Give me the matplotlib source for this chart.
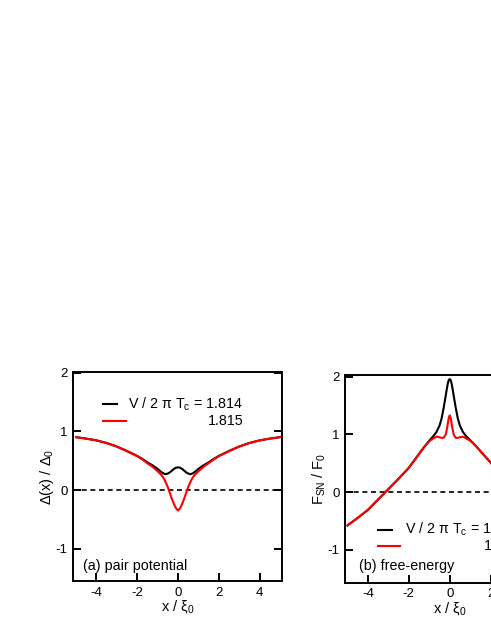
import numpy as np
import matplotlib
matplotlib.use("Agg")
import matplotlib.pyplot as plt

plt.rcParams['font.family'] = ['Liberation Sans', 'DejaVu Sans']
plt.rcParams['mathtext.fontset'] = 'custom'
plt.rcParams['mathtext.rm'] = 'Liberation Sans'
plt.rcParams['mathtext.default'] = 'regular'
plt.rcParams['axes.unicode_minus'] = False

# (a) pair potential
x_delta = [-5.0, -4.5, -4.0, -3.5, -3.0, -2.5, -2.0, -1.75, -1.5, -1.25, -1.0, -0.9, -0.8,
           -0.7, -0.6, -0.5, -0.4, -0.3, -0.2, -0.1, 0.0, 0.1, 0.2, 0.3, 0.4, 0.5, 0.6,
           0.7, 0.8, 0.9, 1.0, 1.25, 1.5, 1.75, 2.0, 2.5, 3.0, 3.5, 4.0, 4.5, 5.0]
delta_1814 = [0.90, 0.875, 0.845, 0.80, 0.74, 0.665, 0.58, 0.53, 0.47, 0.42, 0.36, 0.33, 0.30,
              0.28, 0.27, 0.28, 0.30, 0.33, 0.36, 0.38, 0.385, 0.38, 0.36, 0.33, 0.30, 0.28, 0.27,
              0.28, 0.30, 0.33, 0.36, 0.42, 0.47, 0.53, 0.58, 0.665, 0.74, 0.80, 0.845, 0.875, 0.90]
delta_1815 = [0.90, 0.875, 0.845, 0.80, 0.74, 0.66, 0.575, 0.52, 0.455, 0.395, 0.32, 0.285, 0.25,
              0.20, 0.13, 0.05, -0.05, -0.15, -0.24, -0.31, -0.35, -0.31, -0.24, -0.15, -0.05, 0.05, 0.13,
              0.20, 0.25, 0.285, 0.32, 0.395, 0.455, 0.52, 0.575, 0.66, 0.74, 0.80, 0.845, 0.875, 0.90]

# (b) free energy
x_free = [-5.0, -4.5, -4.0, -3.5, -3.0, -2.5, -2.0, -1.5, -1.25, -1.0, -0.8, -0.65, -0.5,
          -0.4, -0.3, -0.2, -0.15, -0.1, -0.05, 0.0, 0.05, 0.1, 0.15, 0.2, 0.3, 0.4, 0.5,
          0.65, 0.8, 1.0, 1.25, 1.5, 2.0, 2.5, 3.0, 3.5, 4.0, 4.5, 5.0]
free_1814 = [-0.58, -0.45, -0.31, -0.13, 0.05, 0.23, 0.42, 0.66, 0.78, 0.89, 0.97, 1.04, 1.15,
             1.27, 1.45, 1.66, 1.77, 1.87, 1.94, 1.96, 1.94, 1.87, 1.77, 1.66, 1.45, 1.27, 1.15,
             1.04, 0.97, 0.90, 0.81, 0.71, 0.51, 0.31, 0.12, -0.05, -0.20, -0.33, -0.45]
free_1815 = [-0.58, -0.45, -0.31, -0.13, 0.05, 0.23, 0.42, 0.66, 0.78, 0.88, 0.93, 0.96, 0.95,
             0.94, 0.94, 0.99, 1.07, 1.17, 1.28, 1.33, 1.28, 1.17, 1.07, 0.99, 0.94, 0.94, 0.95,
             0.96, 0.93, 0.89, 0.81, 0.71, 0.51, 0.31, 0.12, -0.05, -0.20, -0.33, -0.45]

xticks = [-4, -2, 0, 2, 4]
yticks = [-1, 0, 1, 2]
legend_label = 'V / 2 π T$_c$ = 1.814'
legend_value = '1.815'

fig = plt.figure(figsize=(4.91, 6.35), dpi=100)
ax1 = fig.add_axes([73/491, 54/635, 209/491, 209/635])
ax2 = fig.add_axes([345/491, 52.5/635, 209/491, 207.5/635])


def style(ax):
    ax.set_xticks(xticks)
    ax.set_yticks(yticks)
    ax.tick_params(direction='in', length=6, width=1.4, labelsize=9.5, pad=4,
                   right=True, top=False)
    for s in ax.spines.values():
        s.set_linewidth(1.4)
    ax.axhline(0, color='black', lw=1.2, ls=(0, (3, 2.2)), zorder=1)


ax1.plot(x_delta, delta_1814, color='black', lw=1.5)
ax1.plot(x_delta, delta_1815, color='red', lw=1.5)
style(ax1)
ax1.set_xlim(-5.15, 5.1)
ax1.set_ylim(-1.55, 2.01)
ax1.set_xlabel('x / ξ$_0$', fontsize=10.5, labelpad=0)
ax1.set_ylabel('Δ(x) / Δ$_0$', fontsize=10.5, labelpad=-0.5)
ax1.plot([0.145, 0.21], [0.845, 0.845], transform=ax1.transAxes, color='black', lw=1.5)
ax1.plot([0.145, 0.255], [0.765, 0.765], transform=ax1.transAxes, color='red', lw=1.5)
ax1.text(0.265, 0.845, legend_label, transform=ax1.transAxes, fontsize=10.3, va='center')
ax1.text(0.815, 0.765, legend_value, transform=ax1.transAxes, fontsize=10.3, va='center', ha='right')
ax1.text(0.048, 0.07, '(a) pair potential', transform=ax1.transAxes, fontsize=10.3, va='center')

ax2.plot(x_free, free_1814, color='black', lw=1.5)
ax2.plot(x_free, free_1815, color='red', lw=1.5)
style(ax2)
ax2.set_xlim(-5.12, 5.1)
ax2.set_ylim(-1.57, 2.03)
ax2.set_xlabel('x / ξ$_0$', fontsize=10.5, labelpad=0)
ax2.set_ylabel('F$_{SN}$ / F$_0$', fontsize=10.5, labelpad=-0.5)
ax2.plot([0.16, 0.225], [0.255, 0.255], transform=ax2.transAxes, color='black', lw=1.5)
ax2.plot([0.16, 0.265], [0.178, 0.178], transform=ax2.transAxes, color='red', lw=1.5)
ax2.text(0.285, 0.255, legend_label, transform=ax2.transAxes, fontsize=10.3, va='center')
ax2.text(0.835, 0.178, legend_value, transform=ax2.transAxes, fontsize=10.3, va='center', ha='right')
ax2.text(0.065, 0.08, '(b) free-energy', transform=ax2.transAxes, fontsize=10.3, va='center')

fig.savefig('out.png', dpi=100)
